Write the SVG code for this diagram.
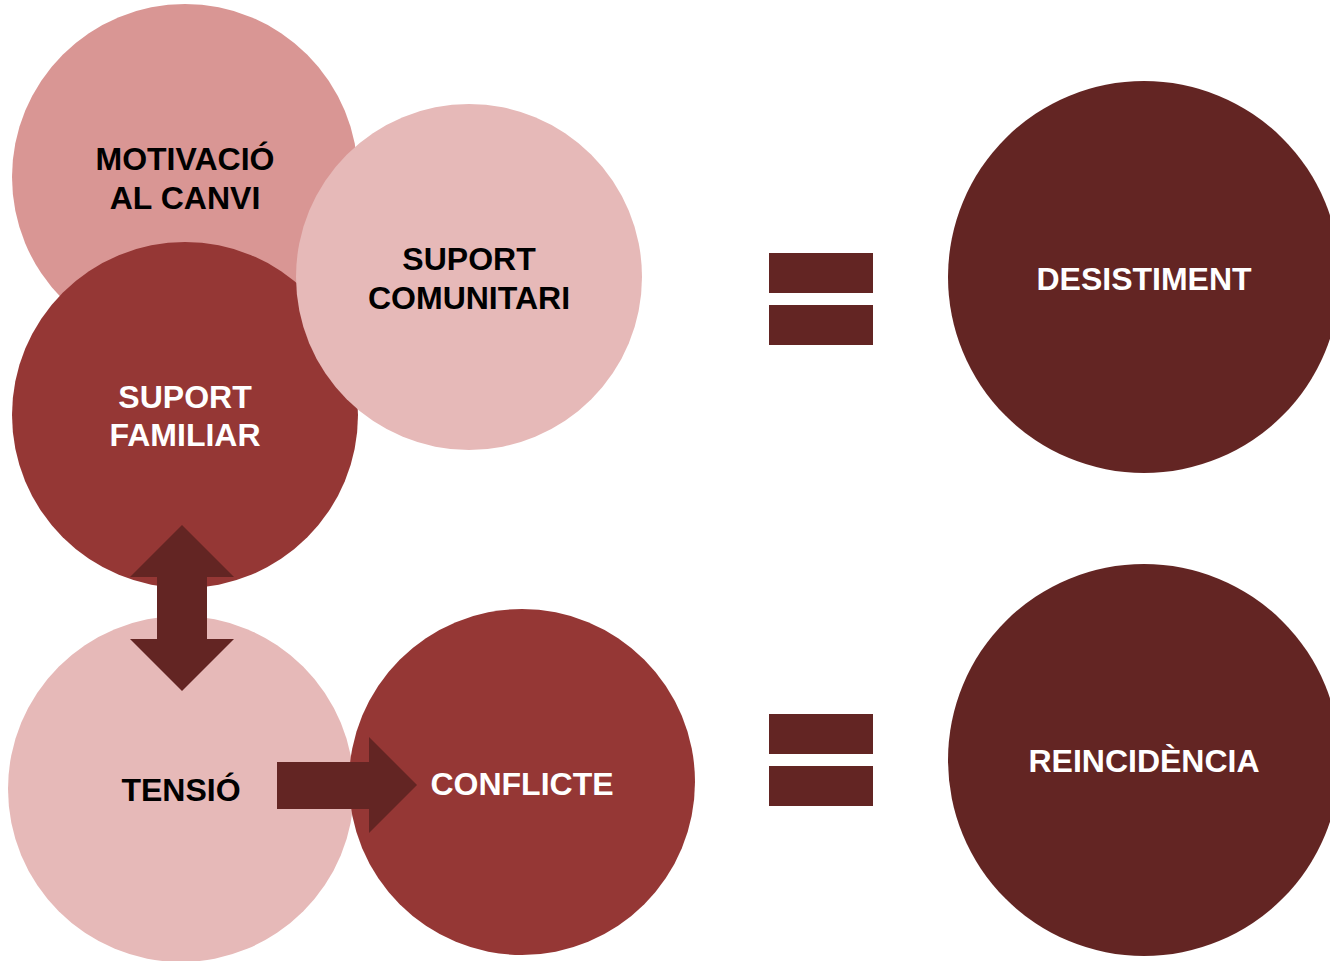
<svg xmlns="http://www.w3.org/2000/svg" width="1330" height="961" viewBox="0 0 1330 961">
<style>
.t{font-family:"Liberation Sans",Arial,sans-serif;font-weight:bold;font-size:32px;text-anchor:middle}
.dk{fill:#000}
.wh{fill:#fff}
.c1{fill:#D99694}
.c2{fill:#E6B9B8}
.c3{fill:#953735}
.c4{fill:#632523}
</style>
<rect width="1330" height="961" fill="#fff"/>
<g id="motivacio"><circle class="c1" cx="185" cy="177" r="173"/><text class="t dk" x="185" y="170">MOTIVACIÓ</text><text class="t dk" x="185" y="209">AL CANVI</text></g>
<g id="suport-familiar"><circle class="c3" cx="185" cy="415" r="173"/><text class="t wh" x="185" y="408">SUPORT</text><text class="t wh" x="185" y="446">FAMILIAR</text></g>
<g id="suport-comunitari"><circle class="c2" cx="469" cy="277" r="173"/><text class="t dk" x="469" y="270">SUPORT</text><text class="t dk" x="469" y="309">COMUNITARI</text></g>
<g id="tensio"><circle class="c2" cx="181" cy="789" r="173"/><text class="t dk" x="181" y="801">TENSIÓ</text></g>
<g id="conflicte"><circle class="c3" cx="522" cy="782" r="173"/><text class="t wh" x="522" y="795">CONFLICTE</text></g>
<g id="desistiment"><circle class="c4" cx="1144" cy="277" r="196"/><text class="t wh" x="1144" y="290">DESISTIMENT</text></g>
<g id="reincidencia"><circle class="c4" cx="1144" cy="760" r="196"/><text class="t wh" x="1144" y="772">REINCIDÈNCIA</text></g>
<g id="connectors" class="c4">
<polygon points="182,525 234,577 207,577 207,639 234,639 182,691 130,639 157,639 157,577 130,577"/>
<polygon points="277,762 369,762 369,737 417,785 369,833 369,809 277,809"/>
<rect x="769" y="253" width="104" height="40"/>
<rect x="769" y="305" width="104" height="40"/>
<rect x="769" y="714" width="104" height="40"/>
<rect x="769" y="766" width="104" height="40"/>
</g>
</svg>
